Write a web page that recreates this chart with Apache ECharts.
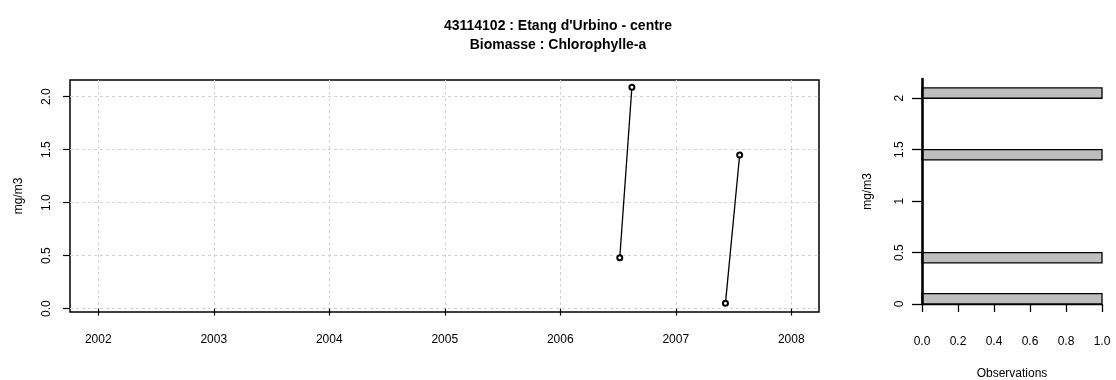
<!DOCTYPE html>
<html>
<head>
<meta charset="utf-8">
<script src="https://cdn.jsdelivr.net/npm/echarts@6/dist/echarts.min.js"></script>
<style>
  html, body { margin: 0; padding: 0; background: #fff; }
  #chart { width: 1116px; height: 380px; }
</style>
</head>
<body>
<div id="chart"></div>
<script>
// ---- data ----
const titleLines = ["43114102 : Etang d'Urbino - centre", "Biomasse : Chlorophylle-a"];
const yUnit = "mg/m3";
const histXName = "Observations";

// sampling dates (decimal years), campaign, chlorophyll-a values
const sampleYears = [2006.515, 2006.62, 2007.43, 2007.553];
const sampleCampaign = [2006, 2006, 2007, 2007];
const chlaValues = [0.48, 2.09, 0.05, 1.45];

// tick labels
const yearTicks = [2002, 2003, 2004, 2005, 2006, 2007, 2008];
const mainYTicks = [0, 0.5, 1, 1.5, 2];
const histYTicks = [0, 0.5, 1, 1.5, 2];
const histXTicks = [0, 0.2, 0.4, 0.6, 0.8, 1];

// histogram bins (value classes) and counts
const binLower = [0.0, 0.4, 1.4, 2.0];
const binUpper = [0.1, 0.5, 1.5, 2.1];
const binCounts = [1, 1, 1, 1];

// ---- build chart ----
const FONT = "'Liberation Sans', Arial, Helvetica, sans-serif";
const FS = 12;
const campaigns = [...new Set(sampleCampaign)];
const lineSeries = campaigns.map(c => ({
  type: 'line',
  xAxisIndex: 0, yAxisIndex: 0,
  data: sampleYears.map((x, i) => [x, chlaValues[i], sampleCampaign[i]]).filter(d => d[2] === c).map(d => [d[0], d[1]]),
  symbol: 'emptyCircle',
  symbolSize: 5,
  lineStyle: { color: '#000', width: 1.3 },
  itemStyle: { color: '#000', borderColor: '#000', borderWidth: 1.2 },
  emphasis: { disabled: true },
  z: 3
}));

const histData = binLower.map((lo, i) => [lo, binUpper[i], binCounts[i]]);

const chart = echarts.init(document.getElementById('chart'), null, { renderer: 'canvas' });
chart.setOption({
  animation: false,
  backgroundColor: '#fff',
  textStyle: { fontFamily: FONT },
  title: {
    text: titleLines.join('\n'),
    left: 'center',
    top: 12,
    textStyle: { fontFamily: FONT, fontSize: 14, fontWeight: 'bold', color: '#000', lineHeight: 19 }
  },
  grid: [
    { left: 70, right: 297, top: 80, bottom: 68, show: true, borderColor: '#000', borderWidth: 1.5, backgroundColor: 'transparent', containLabel: false, outerBoundsMode: 'none' },
    { left: 922, right: 14, top: 79, bottom: 76, show: false, containLabel: false, outerBoundsMode: 'none' }
  ],
  xAxis: [
    {
      type: 'value', gridIndex: 0, min: 2001.755, max: 2008.24,
      axisLine: { show: false },
      axisTick: { show: true, length: 7, lineStyle: { color: '#000', width: 1.2 }, customValues: yearTicks },
      axisLabel: { customValues: yearTicks, formatter: v => String(Math.round(v)), color: '#000', fontSize: FS, margin: 22, fontFamily: FONT },
      splitLine: { show: true, lineStyle: { color: '#d3d3d3', type: [3, 3], width: 1 } }
    },
    {
      type: 'value', gridIndex: 1, min: 0, max: 1, offset: 7,
      axisLine: { show: true, lineStyle: { color: '#000', width: 1.3 } },
      axisTick: { show: true, length: 8, lineStyle: { color: '#000', width: 1.3 }, customValues: histXTicks },
      axisLabel: { customValues: histXTicks, formatter: v => v.toFixed(1), color: '#000', fontSize: FS, margin: 25, fontFamily: FONT },
      splitLine: { show: false },
      name: histXName, nameLocation: 'middle', nameGap: 57,
      nameTextStyle: { color: '#000', fontSize: FS, fontFamily: FONT }
    }
  ],
  yAxis: [
    {
      type: 'value', gridIndex: 0, min: -0.032, max: 2.158,
      axisLine: { show: false },
      axisTick: { show: true, length: 7, lineStyle: { color: '#000', width: 1.2 }, customValues: mainYTicks },
      axisLabel: { customValues: mainYTicks, formatter: v => v.toFixed(1), rotate: 90, color: '#000', fontSize: FS, margin: 17, fontFamily: FONT },
      splitLine: { show: true, lineStyle: { color: '#d3d3d3', type: [3, 3], width: 1 } },
      name: yUnit, nameLocation: 'middle', nameGap: 45, nameRotate: 90,
      nameTextStyle: { color: '#000', fontSize: FS, fontFamily: FONT }
    },
    {
      type: 'value', gridIndex: 1, min: 0, max: 2.187, z: 5,
      axisLine: { show: true, lineStyle: { color: '#000', width: 2.6 } },
      axisTick: { show: true, length: 10, lineStyle: { color: '#000', width: 1.3 }, customValues: histYTicks },
      axisLabel: { customValues: histYTicks, formatter: v => String(v), rotate: 90, color: '#000', fontSize: FS, margin: 16, fontFamily: FONT },
      splitLine: { show: false },
      name: yUnit, nameLocation: 'middle', nameGap: 48, nameRotate: 90,
      nameTextStyle: { color: '#000', fontSize: FS, fontFamily: FONT }
    }
  ],
  series: lineSeries.concat([{
    type: 'custom',
    xAxisIndex: 1, yAxisIndex: 1,
    data: histData,
    encode: { x: 2, y: [0, 1] },
    renderItem: function (params, api) {
      const lo = api.value(0), hi = api.value(1), c = api.value(2);
      const pTop = api.coord([0, hi]);
      const pBot = api.coord([c, lo]);
      return {
        type: 'rect',
        shape: { x: pTop[0], y: pTop[1], width: pBot[0] - pTop[0], height: pBot[1] - pTop[1] },
        style: { fill: '#bebebe', stroke: '#000', lineWidth: 1.3 }
      };
    },
    z: 2
  }])
});
</script>
</body>
</html>
